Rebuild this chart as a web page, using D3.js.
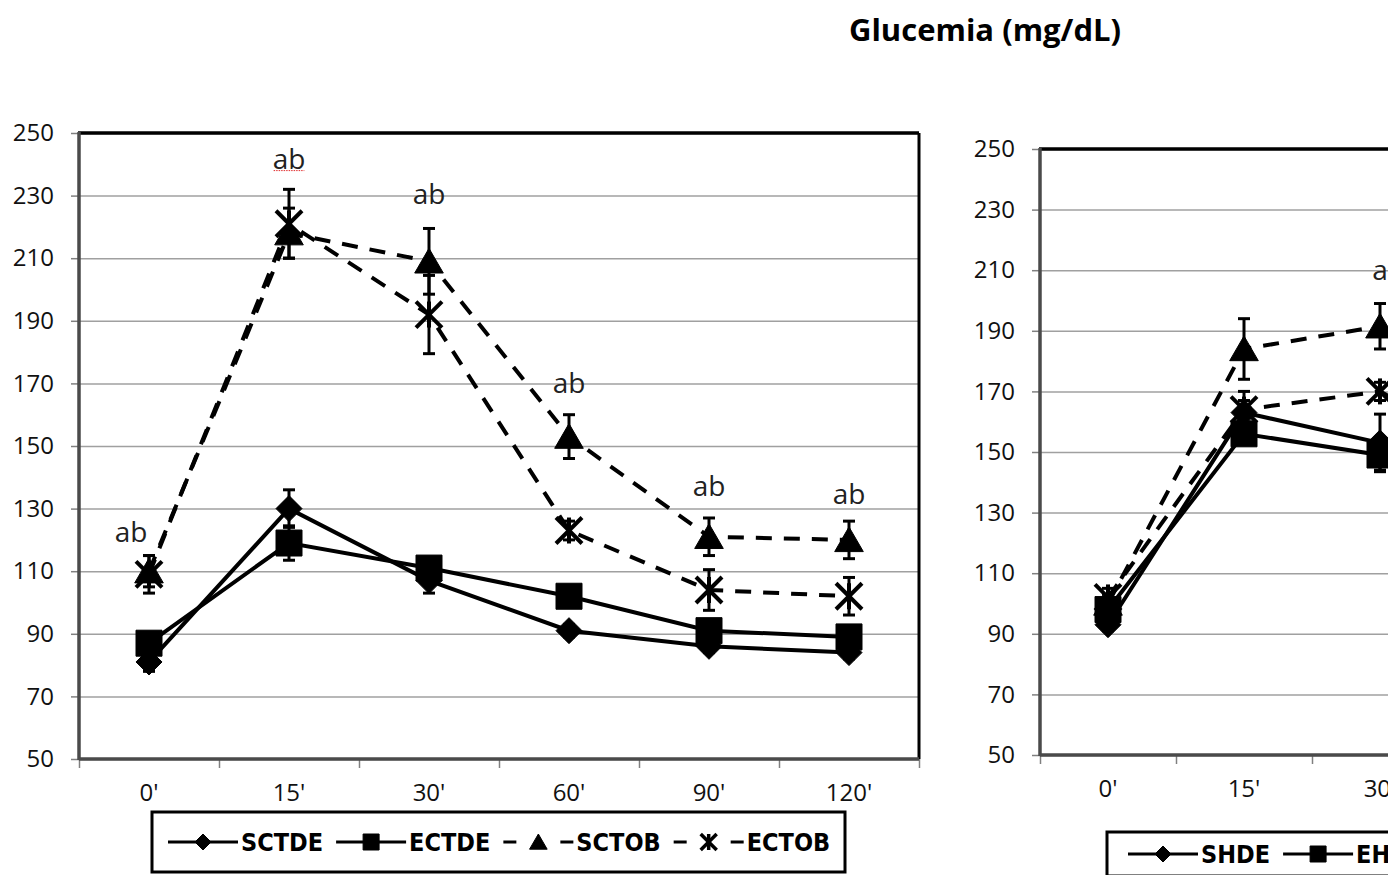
<!DOCTYPE html>
<html><head><meta charset="utf-8">
<script src="https://cdn.jsdelivr.net/npm/d3@7"></script>
<style>body{margin:0;background:#fff}svg{display:block}</style>
</head><body><svg id="c" width="1388" height="875"></svg>
<script>
// ---------- data ----------
const categories = ["0'", "15'", "30'", "60'", "90'", "120'"];
const yTickValues = [50, 70, 90, 110, 130, 150, 170, 190, 210, 230, 250];
const titleText = "Glucemia (mg/dL)";

// left panel
const leftNames = ["SCTDE", "ECTDE", "SCTOB", "ECTOB"];
const sctde    = [81, 130, 107, 91, 86, 84];
const sctdeErr = [3, 6, 4, 2, 2, 2];
const ectde    = [87, 119, 111, 102, 91, 89];
const ectdeErr = [3, 5.5, 3, 2, 2, 2];
const sctob    = [110, 218, 209, 153, 121, 120];
const sctobErr = [5, 8, 10.5, 7, 6, 6];
const ectob    = [109, 221, 192, 123, 104, 102];
const ectobErr = [6, 11, 12.5, 3, 6.5, 6];
const leftNotes = ["ab", "ab", "ab", "ab", "ab", "ab"];
const leftNoteValues = [122.5, 241.5, 230.5, 170, 137, 134.5];

// right panel
const rightNames = ["SHDE", "EHDE", "SHOB", "EHOB"];
const shde    = [93, 163, 153, 130, 114, 106];
const shdeErr = [2, 4, 9.5, 4, 3, 3];
const ehde    = [98, 156, 149, 128, 112, 104];
const ehdeErr = [4, 3, 5, 4, 3, 3];
const shob    = [100, 184, 191.5, 160, 130, 118];
const shobErr = [3, 10, 7.5, 6, 5, 5];
const ehob    = [102, 164, 170, 145, 122, 112];
const ehobErr = [3, 6, 3, 5, 4, 4];
const rightNotes = ["", "", "a", "", "", ""];
const rightNoteValues = [null, null, 210, null, null, null];

// ---------- drawing ----------
const svg = d3.select("#c");
svg.append("rect").attr("width", 1388).attr("height", 875).attr("fill", "#fff");

svg.append("text").attr("x", 985).attr("y", 41).attr("text-anchor", "middle")
  .attr("font-family", "'Open Sans', sans-serif").attr("font-weight", "bold")
  .attr("font-size", 31).attr("fill", "#000").text(titleText);

const tickFont = "'Open Sans', sans-serif";
const legendFont = "'DejaVu Sans Condensed', 'DejaVu Sans', sans-serif";

function markerPath(kind, s) {
  if (kind === 0) return `M0,${-s}L${s},0L0,${s}L${-s},0Z`;
  if (kind === 1) return `M${-s},${-s}H${s}V${s}H${-s}Z`;
  if (kind === 2) return `M0,${-s}L${s * 1.1},${s * 0.9}L${-s * 1.1},${s * 0.9}Z`;
  return null;
}
function drawMarker(g, kind, x, y, s) {
  if (kind === 3) {
    const a = g.append("g").attr("transform", `translate(${x},${y})`)
      .attr("stroke", "#000").attr("stroke-width", s > 9 ? 4 : 3.5).attr("stroke-linecap", "butt");
    a.append("line").attr("x1", -s).attr("y1", -s).attr("x2", s).attr("y2", s);
    a.append("line").attr("x1", -s).attr("y1", s).attr("x2", s).attr("y2", -s);
    a.append("line").attr("x1", 0).attr("y1", -s).attr("x2", 0).attr("y2", s);
  } else {
    g.append("path").attr("d", markerPath(kind, s)).attr("transform", `translate(${x},${y})`)
      .attr("fill", "#000").attr("stroke", "#000").attr("stroke-width", 1);
  }
}

function drawPanel(cfg) {
  const g = svg.append("g");
  const x = d3.scaleBand().domain(categories).range([cfg.x0, cfg.x1]).paddingInner(0).paddingOuter(0);
  const xc = d => x(d) + x.bandwidth() / 2;
  const xIdx = d3.scaleLinear().domain([0, categories.length]).range([cfg.x0, cfg.x1]);
  const y = d3.scaleLinear().domain([50, 250]).range([cfg.yBot, cfg.yTop]);
  const W = cfg.x1 - cfg.x0;

  // gridlines
  g.append("g").attr("transform", `translate(${cfg.x0},0)`)
    .call(d3.axisLeft(y).tickValues(yTickValues).tickSize(-W).tickFormat(""))
    .call(a => a.select(".domain").remove())
    .call(a => a.selectAll("line").attr("stroke", "#a0a0a0").attr("stroke-width", 1.5));

  // y axis ticks + labels
  g.append("g").attr("transform", `translate(${cfg.x0},0)`)
    .call(d3.axisLeft(y).tickValues(yTickValues).tickSize(8).tickPadding(17))
    .call(a => a.select(".domain").remove())
    .call(a => a.selectAll("line").attr("stroke", "#808080").attr("stroke-width", 1.5))
    .call(a => a.selectAll("text").attr("font-family", tickFont).attr("font-size", 24).attr("fill", "#111"));

  // x axis ticks at boundaries
  g.append("g").attr("transform", `translate(0,${cfg.yBot})`)
    .call(d3.axisBottom(xIdx).tickValues(d3.range(categories.length + 1)).tickSize(9).tickFormat(""))
    .call(a => a.select(".domain").remove())
    .call(a => a.selectAll("line").attr("stroke", "#808080").attr("stroke-width", 1.5));
  // x labels
  g.append("g").attr("transform", `translate(0,${cfg.yBot})`)
    .call(d3.axisBottom(x).tickSize(0).tickPadding(25))
    .call(a => a.select(".domain").remove())
    .call(a => a.selectAll("text").attr("font-family", tickFont).attr("font-size", 24).attr("fill", "#111"));

  // frame
  g.append("line").attr("x1", cfg.x0 - 1).attr("x2", cfg.x1).attr("y1", cfg.yTop).attr("y2", cfg.yTop)
    .attr("stroke", "#000").attr("stroke-width", 3.5);
  g.append("line").attr("x1", cfg.x1).attr("x2", cfg.x1).attr("y1", cfg.yTop).attr("y2", cfg.yBot)
    .attr("stroke", "#000").attr("stroke-width", 3);
  g.append("line").attr("x1", cfg.x0).attr("x2", cfg.x0).attr("y1", cfg.yTop - 1).attr("y2", cfg.yBot + 1)
    .attr("stroke", "#4a4a4a").attr("stroke-width", 3.5);
  g.append("line").attr("x1", cfg.x0).attr("x2", cfg.x1).attr("y1", cfg.yBot).attr("y2", cfg.yBot)
    .attr("stroke", "#4a4a4a").attr("stroke-width", 3.5);

  // series
  const line = d3.line().x((d, i) => xc(categories[i])).y(d => y(d)).defined(d => d != null);
  cfg.series.forEach((s, k) => {
    const sg = g.append("g");
    s.values.forEach((v, i) => {
      const e = s.err[i];
      const cx = xc(categories[i]);
      sg.append("line").attr("x1", cx).attr("x2", cx).attr("y1", y(v - e)).attr("y2", y(v + e))
        .attr("stroke", "#000").attr("stroke-width", 3);
      [v - e, v + e].forEach(t => sg.append("line").attr("x1", cx - 6).attr("x2", cx + 6)
        .attr("y1", y(t)).attr("y2", y(t)).attr("stroke", "#000").attr("stroke-width", 3));
    });
    sg.append("path").datum(s.values).attr("d", line).attr("fill", "none")
      .attr("stroke", "#000").attr("stroke-width", 4)
      .attr("stroke-dasharray", s.kind >= 2 ? "16,12" : null);
    s.values.forEach((v, i) => drawMarker(sg, s.kind, xc(categories[i]), y(v), 13));
  });

  // notes
  cfg.notes.forEach((t, i) => {
    if (!t) return;
    const tx = g.append("text").attr("x", xc(categories[i]) + (i === 0 ? cfg.firstNoteDx : 0))
      .attr("y", y(cfg.noteValues[i])).attr("dy", "0.35em").attr("text-anchor", "middle")
      .attr("font-family", tickFont).attr("font-size", 28).attr("fill", "#222").text(t);
    if (cfg.squiggle === i) {
      const bb = tx.node().getBBox();
      g.append("line").attr("x1", bb.x + 1).attr("x2", bb.x + bb.width - 1)
        .attr("y1", y(cfg.noteValues[i]) + 11).attr("y2", y(cfg.noteValues[i]) + 11)
        .attr("stroke", "#e03030").attr("stroke-width", 1).attr("stroke-dasharray", "1.5,1");
    }
  });

  // legend
  const L = cfg.legend;
  const lg = g.append("g");
  lg.append("rect").attr("x", L.x).attr("y", L.y).attr("width", L.w).attr("height", L.h)
    .attr("fill", "#fff").attr("stroke", "#000").attr("stroke-width", 3);
  const cy = L.y + L.h / 2;
  const sw = 70;
  const texts = cfg.series.map(s => lg.append("text").attr("y", cy).attr("dy", "0.36em")
    .attr("font-family", legendFont).attr("font-weight", "bold").attr("font-size", 25)
    .attr("fill", "#000").text(s.name));
  const widths = texts.map(t => t.node().getComputedTextLength());
  const gap = L.gap;
  let cx = L.x + L.pad;
  cfg.series.forEach((s, k) => {
    lg.append("line").attr("x1", cx).attr("x2", cx + sw).attr("y1", cy).attr("y2", cy)
      .attr("stroke", "#000").attr("stroke-width", 3)
      .attr("stroke-dasharray", s.kind >= 2 ? "13,44,13" : null);
    drawMarker(lg, s.kind, cx + sw / 2, cy, 8);
    texts[k].attr("x", cx + sw + 3);
    cx += sw + 3 + widths[k] + gap;
  });
}

drawPanel({
  x0: 79, x1: 919, yTop: 133, yBot: 759,
  series: [
    { name: leftNames[0], values: sctde, err: sctdeErr, kind: 0 },
    { name: leftNames[1], values: ectde, err: ectdeErr, kind: 1 },
    { name: leftNames[2], values: sctob, err: sctobErr, kind: 2 },
    { name: leftNames[3], values: ectob, err: ectobErr, kind: 3 }
  ],
  notes: leftNotes, noteValues: leftNoteValues, firstNoteDx: -18, squiggle: 1,
  legend: { x: 152, y: 812, w: 693, h: 60, pad: 16, gap: 13 }
});

drawPanel({
  x0: 1040, x1: 1856, yTop: 149, yBot: 755,
  series: [
    { name: rightNames[0], values: shde, err: shdeErr, kind: 0 },
    { name: rightNames[1], values: ehde, err: ehdeErr, kind: 1 },
    { name: rightNames[2], values: shob, err: shobErr, kind: 2 },
    { name: rightNames[3], values: ehob, err: ehobErr, kind: 3 }
  ],
  notes: rightNotes, noteValues: rightNoteValues, firstNoteDx: 0, squiggle: -1,
  legend: { x: 1107, y: 832, w: 660, h: 44, pad: 21, gap: 13 }
});
</script></body></html>
